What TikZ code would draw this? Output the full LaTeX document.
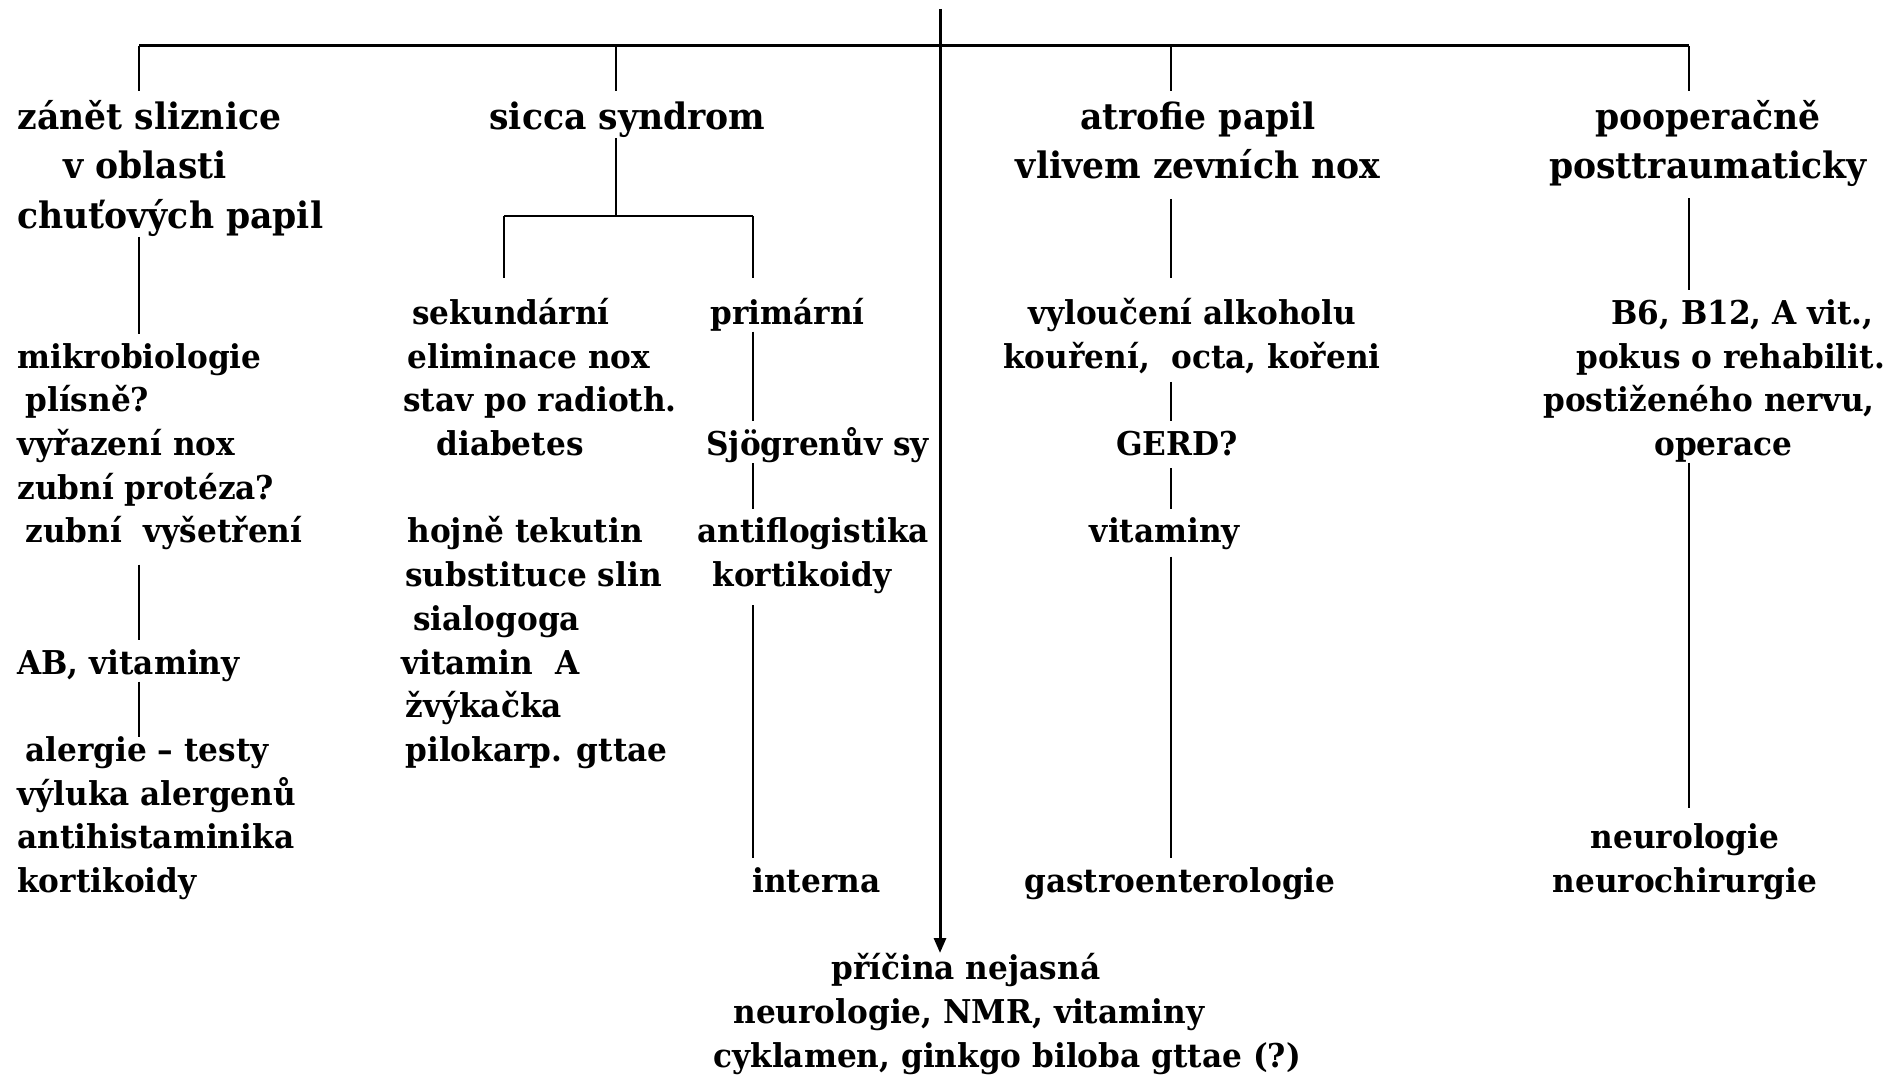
\documentclass[tikz,border=0pt]{standalone}
\usepackage{fontspec}
\setmainfont{DejaVu Serif}[FakeStretch=0.95]
\usepackage{tikz}
\usetikzlibrary{calc}
\usetikzlibrary{arrows.meta}
\usetikzlibrary{positioning}
\newcommand\smalltxt{\fontsize{16.4}{21.85}\selectfont\bfseries}
\newcommand\bigtxt{\fontsize{18.2}{24.75}\selectfont\bfseries}
\newcommand\fstrut{\rule{0pt}{17pt}}
\newcommand\Fstrut{\rule{0pt}{19pt}}
\tikzset{>=latex}
\tikzset{txt/.style = {inner sep=0pt, anchor=north west, align=left, font=\smalltxt}}
\tikzset{big/.style = {inner sep=0pt, anchor=north west, align=left, font=\bigtxt}}
\tikzset{link/.style = {-, draw=black, line width=0.7pt}}
\tikzset{bar/.style = {-, draw=black, line width=1.5pt}}

\begin{document}
\begin{tikzpicture}[x=0.5pt, y=-0.5pt]
\useasboundingbox (0,0) rectangle (1894,1075);
\coordinate (root) at (940,9);
\coordinate (tz) at (139,46);
\coordinate (ts) at (616,46);
\coordinate (ta) at (1171,46);
\coordinate (tp) at (1689,46);
\coordinate (sb) at (616,216);
\coordinate (sl) at (504,216);
\coordinate (sr) at (753,216);
\node [big] (zanet) at (17,91) {\Fstrut zánět sliznice\\\hspace*{23pt}v oblasti\\chuťových papil};
\node [big] (sicca) at (489,91) {\Fstrut sicca syndrom};
\node [big, anchor=north, align=center] (atrof) at (1198,91) {\Fstrut atrofie papil\\vlivem zevních nox};
\node [big, anchor=north, align=center] (poop) at (1708,91) {\Fstrut pooperačně\\posttraumaticky};
\node [txt] (mikro) at (17,333.7) {\fstrut mikrobiologie\\\hspace*{4pt}plísně?\\vyřazení nox\\zubní protéza?\\\hspace*{4pt}zubní\ \ vyšetření};
\node [txt] (ab) at (17,639.6) {\fstrut AB, vitaminy};
\node [txt] (alerg) at (17,727) {\fstrut\hspace*{4pt}alergie – testy\\výluka alergenů\\antihistaminika\\kortikoidy};
\node [txt] (sekund) at (403,290) {\fstrut\hspace*{4.5pt}sekundární\\\hspace*{2pt}eliminace nox\\stav po radioth.\\\hspace*{16.5pt}diabetes};
\node [txt] (hojne) at (401,508.5) {\fstrut\hspace*{3pt}hojně tekutin\\\hspace*{2pt}substituce slin\\\hspace*{6pt}sialogoga\\vitamin\ \ A\\\hspace*{2pt}žvýkačka\\\hspace*{2pt}pilokarp. gttae};
\node [txt] (primar) at (710,290) {\fstrut primární};
\node [txt] (sjogren) at (706,421.1) {\fstrut Sjögrenův sy};
\node [txt] (antifl) at (697,508.5) {\fstrut antiflogistika\\\hspace*{7.5pt}kortikoidy};
\node [txt] (interna) at (752,858.1) {\fstrut interna};
\node [txt, anchor=north, align=center] (vylouc) at (1192,290) {\fstrut vyloučení alkoholu\\kouření,\ \ octa, kořeni};
\node [txt, anchor=north] (gerd) at (1177,421.1) {\fstrut GERD?};
\node [txt, anchor=north] (vitam) at (1165,508.5) {\fstrut vitaminy};
\node [txt, anchor=north] (gastro) at (1180,858.1) {\fstrut gastroenterologie};
\node [txt] (vitb) at (1543,290) {\fstrut\hspace*{34pt}B6, B12, A vit.,\\\hspace*{16.5pt}pokus o rehabilit.\\postiženého nervu,\\\hspace*{55.5pt}operace};
\node [txt, anchor=north, align=center] (neuro) at (1685,814.4) {\fstrut neurologie\\neurochirurgie};
\node [txt] (pricina) at (713,945.5) {\fstrut\hspace*{59pt}příčina nejasná\\\hspace*{10pt}neurologie, NMR, vitaminy\\cyklamen, ginkgo biloba gttae (?)};
% top branches
\draw [bar] (tz) -- (tp);
\draw [bar, -{Triangle[length=7.5pt, width=6pt]}, shorten >=-3.75pt] (root) -- (pricina.north -| root);
\draw [link] (tz) -- (zanet.north -| tz);
\draw [link] (ts) -- (sicca.north -| ts);
\draw [link] (ta) -- (atrof.north -| ta);
\draw [link] (tp) -- (poop.north -| tp);
% left column
\draw [link] (zanet.south -| tz) -- (mikro.north -| tz);
\draw [link, shorten <=7pt] (mikro.south -| tz) -- (ab.north -| tz);
\draw [link, shorten >=-5pt] (ab.south -| tz) -- (alerg.north -| tz);
% sicca
\draw [link] (sicca.south -| sb) -- (sb);
\draw [link] (sl) -- (sr);
\draw [link, shorten >=6pt] (sl) -- (sekund.north -| sl);
\draw [link, shorten >=6pt] (sr) -- (primar.north -| sr);
\draw [link] (primar.south -| sr) -- (sjogren.north -| sr);
\draw [link] (sjogren.south -| sr) -- (antifl.north -| sr);
\draw [link, shorten <=5.5pt] (antifl.south -| sr) -- (interna.north -| sr);
% atrofie
\draw [link, shorten <=9.5pt, shorten >=6pt] (atrof.south -| ta) -- (vylouc.north -| ta);
\draw [link, shorten <=4pt] (vylouc.south -| ta) -- (gerd.north -| ta);
\draw [link, shorten <=6pt] (gerd.south -| ta) -- (vitam.north -| ta);
\draw [link, shorten <=3pt] (vitam.south -| ta) -- (gastro.north -| ta);
% pooperacne
\draw [link, shorten <=5.5pt] (poop.south -| tp) -- (vitb.north -| tp);
\draw [link, shorten >=3pt] (vitb.south -| tp) -- (neuro.north -| tp);
\end{tikzpicture}
\end{document}
